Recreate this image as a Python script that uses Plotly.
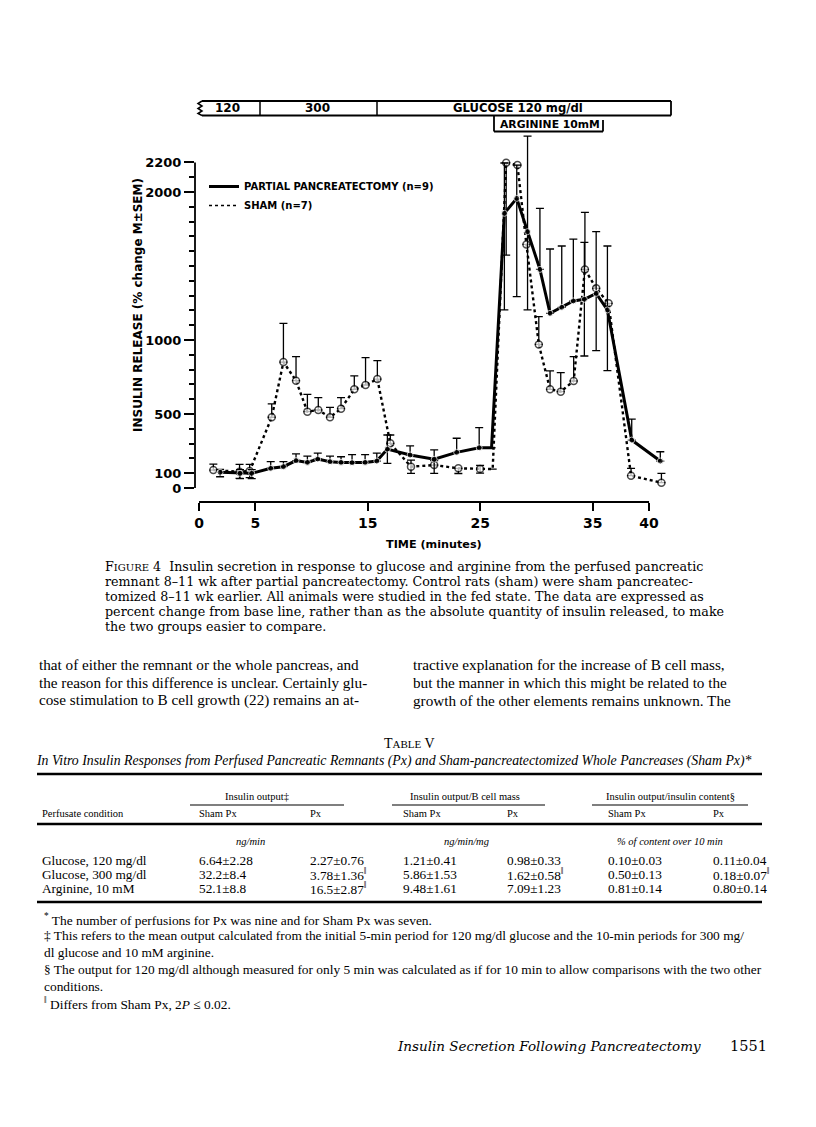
import plotly.graph_objects as go

# ---------------- data ----------------
pp_time = [1.87, 3.64, 4.68, 6.37, 7.5, 8.62, 9.63, 10.55, 11.64, 12.62, 13.6, 14.76, 15.8,
           16.74, 18.76, 20.9, 22.9, 24.9, 26.0, 27.14, 28.24, 29.2, 30.3, 31.2, 32.24,
           33.27, 34.25, 35.3, 36.3, 38.46, 41.0]
pp_value = [106, 99, 99, 133, 144, 185, 173, 196, 178, 173, 171, 173, 182,
            263, 223, 194, 241, 272, 272, 1856, 1957, 1732, 1477, 1180, 1221,
            1264, 1275, 1315, 1203, 324, 182]
pp_err_up = [20, 25, 25, 45, 34, 45, 43, 40, 38, 38, 54, 52, 54,
             95, 61, 63, 95, 136, 0, 340, 225, 646, 413, 435, 414,
             418, 385, 417, 432, 142, 63]
pp_err_down = [30, 35, 35, 0, 0, 0, 0, 0, 0, 0, 0, 0, 0,
               96, 0, 95, 0, 0, 0, 653, 664, 529, 0, 0, 0,
               0, 383, 387, 410, 0, 0]

sh_time = [1.27, 3.6, 4.5, 6.46, 7.5, 8.62, 9.63, 10.6, 11.64, 12.62, 13.8, 14.8, 15.85,
           17.0, 18.84, 20.9, 23.05, 24.98, 26.1, 27.3, 28.3, 29.1, 30.2, 31.2, 32.15,
           33.3, 34.3, 35.3, 36.4, 38.4, 41.1]
sh_value = [121, 110, 115, 478, 851, 725, 516, 527, 478, 536, 667, 696, 736,
            302, 144, 155, 133, 128, 128, 2198, 2182, 1646, 970, 667, 651,
            723, 1477, 1349, 1248, 83, 36]
sh_err_up = [40, 50, 45, 90, 262, 163, 117, 83, 67, 74, 90, 185, 124,
             56, 45, 30, 0, 25, 0, 0, 0, 0, 188, 124, 128,
             164, 386, 0, 0, 50, 63]
sh_err_down = [0, 45, 45, 0, 0, 0, 0, 0, 0, 0, 0, 0, 0,
               0, 45, 0, 35, 28, 0, 624, 0, 0, 0, 0, 0,
               0, 0, 0, 0, 0, 0]

x_tickvals = [0, 5, 15, 25, 35, 40]
y_tickvals = [0, 100, 500, 1000, 2000, 2200]
y_minor_ticks = list(range(0, 2201, 100))

series_names = ["PARTIAL PANCREATECTOMY (n=9)", "SHAM (n=7)"]

# table
table_conditions = ["Glucose, 120 mg/dl", "Glucose, 300 mg/dl", "Arginine, 10 mM"]
sham_output = ["6.64±2.28", "32.2±8.4", "52.1±8.8"]
px_output = ["2.27±0.76", "3.78±1.36<sup>‖</sup>", "16.5±2.87<sup>‖</sup>"]
sham_bmass = ["1.21±0.41", "5.86±1.53", "9.48±1.61"]
px_bmass = ["0.98±0.33", "1.62±0.58<sup>‖</sup>", "7.09±1.23"]
sham_content = ["0.10±0.03", "0.50±0.13", "0.81±0.14"]
px_content = ["0.11±0.04", "0.18±0.07<sup>‖</sup>", "0.80±0.14"]

# ---------------- layout geometry (page pixels; body has 8px margin) ----------------
OFF = 8
L, T, W, H = 195, 130, 477, 372          # plot area in page pixels
FIG_W, FIG_H = 816 - 2 * OFF, 1127 - 2 * OFF
XR = [-0.36, -0.36 + W / 11.25]
YR = [-94.6, -94.6 + H / 0.148]


def px(x):
    return (x - L) / W


def py(y):
    return (T + H - y) / H


SERIF = "Liberation Serif"

fig = go.Figure()

pp_sizes = [0 if i == 18 else 6 for i in range(len(pp_time))]
sh_sizes = [0 if i == 18 else 7 for i in range(len(sh_time))]

fig.add_trace(go.Scatter(
    x=sh_time, y=sh_value, mode="lines+markers", showlegend=False,
    line=dict(color="black", width=2.4, dash="dot"),
    marker=dict(symbol="circle", size=sh_sizes, color="white", line=dict(color="black", width=1.5)),
    error_y=dict(type="data", symmetric=False, array=sh_err_up, arrayminus=sh_err_down,
                 color="black", thickness=1.3, width=4),
    cliponaxis=False,
))
fig.add_trace(go.Scatter(
    x=pp_time, y=pp_value, mode="lines+markers", showlegend=False,
    line=dict(color="black", width=3),
    marker=dict(symbol="circle", size=pp_sizes, color="black"),
    error_y=dict(type="data", symmetric=False, array=pp_err_up, arrayminus=pp_err_down,
                 color="black", thickness=1.3, width=4),
    cliponaxis=False,
))
fig.add_trace(go.Scatter(x=[None], y=[None], mode="lines", name=series_names[0],
                         line=dict(color="black", width=3)))
fig.add_trace(go.Scatter(x=[None], y=[None], mode="lines", name=series_names[1],
                         line=dict(color="black", width=1.6, dash="dot")))

shapes = []
LW = 1.8


def hline(x0, x1, y, w=LW):
    shapes.append(dict(type="line", xref="paper", yref="paper", x0=px(x0), x1=px(x1),
                       y0=py(y), y1=py(y), line=dict(color="black", width=w)))


def vline(x, y0, y1, w=LW):
    shapes.append(dict(type="line", xref="paper", yref="paper", x0=px(x), x1=px(x),
                       y0=py(y0), y1=py(y1), line=dict(color="black", width=w)))


# axis lines
shapes.append(dict(type="line", xref="paper", yref="y", x0=0, x1=0, y0=0, y1=2200,
                   line=dict(color="black", width=1.8)))
shapes.append(dict(type="line", xref="x", yref="paper", x0=0, x1=40, y0=0, y1=0,
                   line=dict(color="black", width=1.8)))

# protocol bar
hline(202, 671, 101)
hline(202, 671, 115.5)
vline(671, 101, 115.5)
vline(260, 101, 115.5, 1.5)
vline(377, 101, 115.5, 1.5)
zig = [(202, 101), (198, 103.5), (202, 106), (198, 108.5), (202, 111), (198, 113.5), (202, 115.5)]
path = "M " + " L ".join(f"{px(a):.5f},{py(b):.5f}" for a, b in zig)
shapes.append(dict(type="path", xref="paper", yref="paper", path=path,
                   line=dict(color="black", width=1.5)))
vline(494, 115.5, 131.5)
hline(494, 603, 131.5)
vline(603, 120, 131.5)

ann = []


def text(x, y, s, size, family=None, xanchor="left", weight="normal", style="normal",
         textangle=0, yanchor="middle"):
    ann.append(dict(x=px(x), y=py(y), xref="paper", yref="paper", text=s, showarrow=False,
                    xanchor=xanchor, yanchor=yanchor, textangle=textangle,
                    font=dict(family=family or SERIF, size=size, color="black",
                              weight=weight, style=style)))


text(227, 108.5, "120", 12, "DejaVu Sans", "center", "bold")
text(317, 108.5, "300", 12, "DejaVu Sans", "center", "bold")
text(518, 108.5, "GLUCOSE 120 mg/dl", 11.6, "DejaVu Sans", "center", "bold")
text(550, 124, "ARGININE 10mM", 10.8, "DejaVu Sans", "center", "bold")
text(138, 305, "INSULIN RELEASE (% change M±SEM)", 12, "DejaVu Sans", "center", "bold",
     textangle=-90)
text(434, 544, "TIME (minutes)", 11.2, "DejaVu Sans", "center", "bold")

cap = [
    "F<span style='font-size:10px'>IGURE</span> 4  Insulin secretion in response to glucose and arginine from the perfused pancreatic",
    "remnant 8–11 wk after partial pancreatectomy. Control rats (sham) were sham pancreatec-",
    "tomized 8–11 wk earlier. All animals were studied in the fed state. The data are expressed as",
    "percent change from base line, rather than as the absolute quantity of insulin released, to make",
    "the two groups easier to compare.",
]
for i, s in enumerate(cap):
    text(103, 566 + 15 * i, s, 12.7, "DejaVu Serif")

body_left = [
    "that of either the remnant or the whole pancreas, and",
    "the reason for this difference is unclear. Certainly glu-",
    "cose stimulation to B cell growth (22) remains an at-",
]
body_right = [
    "tractive explanation for the increase of B cell mass,",
    "but the manner in which this might be related to the",
    "growth of the other elements remains unknown. The",
]
for i, s in enumerate(body_left):
    text(37, 664 + 18 * i, s, 15.2)
for i, s in enumerate(body_right):
    text(411, 664 + 18 * i, s, 15.2)

# table
text(409, 743, "T<span style='font-size:11px'>ABLE</span> V", 14, xanchor="center")
text(394, 761, "In Vitro Insulin Responses from Perfused Pancreatic Remnants (Px) and "
     "Sham-pancreatectomized Whole Pancreases (Sham Px)*", 13.8, xanchor="center", style="italic")
hline(37, 762, 774, 2.5)
groups = [("Insulin output‡", 257), ("Insulin output/B cell mass", 465),
          ("Insulin output/insulin content§", 670)]
for s, cx in groups:
    text(cx, 796, s, 10.5, xanchor="center")
for a, b in [(190, 344), (392, 545), (592, 748)]:
    hline(a, b, 805, 1.2)
col_x = [197, 308, 401, 505, 606, 711]
text(40, 813, "Perfusate condition", 10.5)
for cx, s in zip(col_x, ["Sham Px", "Px", "Sham Px", "Px", "Sham Px", "Px"]):
    text(cx, 813, s, 10.5)
hline(37, 762, 824, 2.5)
for s, cx in [("ng/min", 250), ("ng/min/mg", 466), ("% of content over 10 min", 670)]:
    text(cx, 841, s, 10.5, xanchor="center", style="italic")
cols = [sham_output, px_output, sham_bmass, px_bmass, sham_content, px_content]
for r, cond in enumerate(table_conditions):
    y = 860 + 14.5 * r
    text(40, y, cond, 13.3)
    for cx, col in zip(col_x, cols):
        text(cx, y, col[r], 13.3)
hline(37, 762, 902, 2.5)

foot = [
    "<sup>*</sup> The number of perfusions for Px was nine and for Sham Px was seven.",
    "‡ This refers to the mean output calculated from the initial 5-min period for 120 mg/dl glucose and the 10-min periods for 300 mg/",
    "dl glucose and 10 mM arginine.",
    "§ The output for 120 mg/dl although measured for only 5 min was calculated as if for 10 min to allow comparisons with the two other",
    "conditions.",
    "<sup>‖</sup> Differs from Sham Px, 2<i>P</i> ≤ 0.02.",
]
for i, s in enumerate(foot):
    text(42, 919 + 16.8 * i, s, 13.4)

text(395, 1046, "Insulin Secretion Following Pancreatectomy", 13.5, "DejaVu Serif", style="italic")
text(728, 1046, "1551", 14.5, "DejaVu Serif")

fig.update_layout(
    width=FIG_W, height=FIG_H,
    margin=dict(l=L - OFF, r=FIG_W - (L - OFF) - W, t=T - OFF, b=FIG_H - (T - OFF) - H,
                autoexpand=False),
    paper_bgcolor="white", plot_bgcolor="white",
    showlegend=True,
    legend=dict(x=px(204), y=py(172), xanchor="left", yanchor="top", bgcolor="rgba(0,0,0,0)",
                font=dict(family="DejaVu Sans", size=10, color="black", weight="bold"),
                itemwidth=30, tracegroupgap=0),
    xaxis=dict(range=XR, tickvals=x_tickvals, ticks="outside", ticklen=8, tickwidth=1.8,
               tickcolor="black", showline=False, showgrid=False, zeroline=False,
               tickfont=dict(family="DejaVu Sans", size=14, color="black", weight="bold")),
    yaxis=dict(range=YR, tickvals=y_tickvals, ticks="outside", ticklen=10, tickwidth=1.8,
               tickcolor="black", showline=False, showgrid=False, zeroline=False,
               tickfont=dict(family="DejaVu Sans", size=13, color="black", weight="bold"),
               minor=dict(tickvals=y_minor_ticks, ticks="outside", ticklen=5, tickwidth=1.8,
                          tickcolor="black", showgrid=False)),
    shapes=shapes, annotations=ann,
)

fig.write_html("out.html")
